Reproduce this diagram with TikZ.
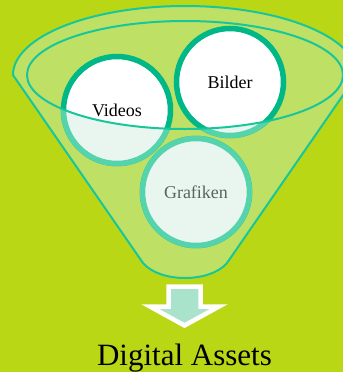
\documentclass[tikz,border=0pt]{standalone}
\usepackage{fontspec}
\setmainfont{Liberation Serif}
\usetikzlibrary{positioning}

\definecolor{bgGreen}{HTML}{BAD716}
\definecolor{funnelFill}{HTML}{BEE064}
\definecolor{funnelEdge}{HTML}{17C79B}
\definecolor{bubbleEdge}{HTML}{00B887}
\definecolor{bubbleEdgeLight}{HTML}{55D3AC}
\definecolor{bubbleMint}{HTML}{E8F6EF}
\definecolor{arrowFill}{HTML}{A9E3CB}
\definecolor{labelGray}{HTML}{5C625E}

\begin{document}
\begin{tikzpicture}[x=1bp, y=-1bp,
    funnel/.style={draw=funnelEdge, line width=2bp, fill=funnelFill},
    bubble/.style={circle, draw=bubbleEdge, line width=5.5bp, fill=white, minimum size=107bp, inner sep=0pt},
    tint/.style={draw=bubbleEdgeLight, line width=5.5bp, fill=bubbleMint},
    label/.style={font=\fontsize{18bp}{20bp}\selectfont},
    title/.style={font=\fontsize{31bp}{34bp}\selectfont}
]

    % Page and background
    \clip (0,0) rectangle (343,372);
    \fill[bgGreen] (0,0) rectangle (343,372);

    % --- Funnel body ---
    \path[funnel] (13,75) arc[start angle=180, end angle=360, x radius=172, y radius=69]
        -- (227,263) .. controls (210,283) and (160,283) .. (143,263) -- cycle;

    % --- Bubbles ---
    \node[bubble] (videos) at (117,110) {};
    \node[bubble] (bilder) at (230,82) {};
    \node[bubble] (grafiken) at (196,192) {};

    % Front of the funnel tints what lies below the rim
    \begin{scope}
        \clip (0,75) -- (27,75) arc[start angle=180, end angle=0, x radius=158, y radius=54]
            -- (400,75) -- (400,400) -- (0,400) -- cycle;
        \foreach \b in {videos, bilder, grafiken} {
            \path[tint] (\b.center) circle (53.5);
        }
    \end{scope}

    % Rim of the funnel
    \draw[funnelEdge, line width=2bp] (185,75) ellipse [x radius=158, y radius=54];

    % Labels
    \node[label] at (videos) {Videos};
    \node[label] at (bilder) {Bilder};
    \node[label, text=labelGray] at (grafiken) {Grafiken};

    % --- Output arrow ---
    \draw[white, line width=4.5bp, fill=arrowFill, line join=miter]
        (168.5,286.5) -- (200.5,286.5) -- (200.5,306.5) -- (219,306.5)
        -- (184.5,325.5) -- (150,306.5) -- (168.5,306.5) -- cycle;

    \node[title, anchor=base] (assets) at (184.5,365) {Digital Assets};

\end{tikzpicture}
\end{document}
